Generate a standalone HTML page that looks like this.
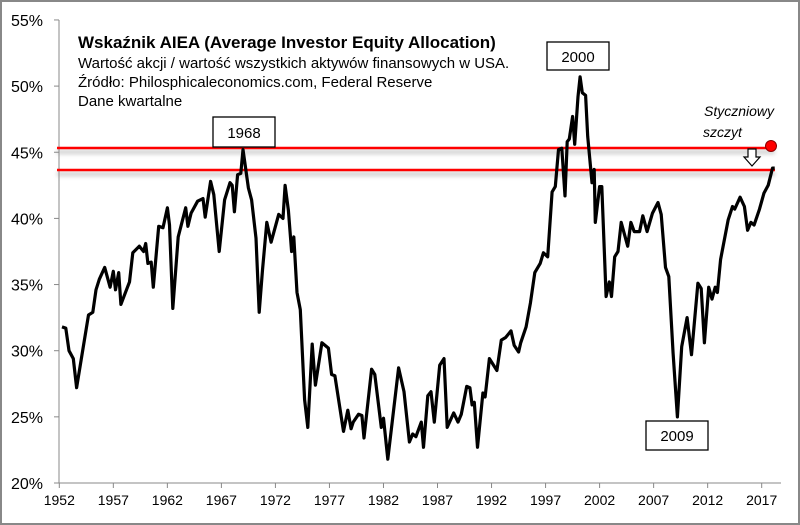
<!DOCTYPE html>
<html><head><meta charset="utf-8"><style>
html,body{margin:0;padding:0;background:#fff}
svg{display:block;font-family:"Liberation Sans",sans-serif}
</style></head><body>
<svg id="chart" width="800" height="525" viewBox="0 0 800 525">
<defs><filter id="sh" x="-5%" y="-200%" width="110%" height="500%"><feGaussianBlur stdDeviation="2"/></filter></defs>
<rect x="1" y="1" width="798" height="523" fill="#fff" stroke="#888" stroke-width="2"/>
<g id="axes"></g>
<g>
<rect x="57" y="150" width="718" height="4" fill="#999" opacity="0.5" filter="url(#sh)"/>
<rect x="57" y="172" width="718" height="4" fill="#999" opacity="0.5" filter="url(#sh)"/>
<line x1="57" y1="148" x2="775" y2="148" stroke="#f00" stroke-width="2.5"/>
<line x1="57" y1="170" x2="775" y2="170" stroke="#f00" stroke-width="2.5"/>
</g>
<path id="series" fill="none" stroke="#000" stroke-width="3.2" stroke-linejoin="round"/>
<g fill="#000">
<text x="78" y="48" font-size="17" font-weight="bold">Wskaźnik AIEA (Average Investor Equity Allocation)</text>
<text x="78" y="68" font-size="15">Wartość akcji / wartość wszystkich aktywów  finansowych w USA.</text>
<text x="78" y="87" font-size="15">Źródło: Philosphicaleconomics.com, Federal Reserve</text>
<text x="78" y="106" font-size="15">Dane kwartalne</text>
</g>
<g>
<rect x="213" y="117" width="62" height="30" fill="#fff" stroke="#000" stroke-width="1.3"/>
<text x="244" y="138" font-size="15" text-anchor="middle">1968</text></g>
<g>
<rect x="547" y="42" width="62" height="28" fill="#fff" stroke="#000" stroke-width="1.3"/>
<text x="578" y="62" font-size="15" text-anchor="middle">2000</text></g>
<g>
<rect x="646" y="421" width="62" height="29" fill="#fff" stroke="#000" stroke-width="1.3"/>
<text x="677" y="441" font-size="15" text-anchor="middle">2009</text></g>
<g>
<text x="704" y="116" font-size="14" font-style="italic">Styczniowy</text>
<text x="703" y="137" font-size="14" font-style="italic">szczyt</text>
<path d="M748 149 h8 v8 h4 l-8 9 l-8 -9 h4 z" fill="#fff" stroke="#000" stroke-width="1.2"/>
<circle cx="771" cy="146" r="5.5" fill="#f00" stroke="#800" stroke-width="1"/>
</g>
</svg>
<script>
const years=[1952.25,1952.6,1952.9,1953.3,1953.6,1954.7,1955.1,1955.4,1955.7,1956.2,1956.7,1957.0,1957.2,1957.5,1957.7,1958.5,1958.8,1959.4,1959.8,1960.0,1960.2,1960.5,1960.7,1961.2,1961.6,1962.0,1962.2,1962.5,1963.0,1963.7,1963.9,1964.2,1964.8,1965.3,1965.5,1966.0,1966.3,1966.8,1967.3,1967.8,1968.0,1968.2,1968.5,1968.8,1969.0,1969.5,1969.8,1970.2,1970.5,1970.8,1971.2,1971.6,1972.3,1972.7,1972.9,1973.2,1973.5,1973.7,1974.0,1974.3,1974.7,1975.0,1975.4,1975.7,1976.3,1976.9,1977.2,1977.5,1978.3,1978.7,1979.0,1979.2,1979.7,1980.0,1980.2,1980.9,1981.2,1981.8,1982.0,1982.4,1983.4,1983.9,1984.4,1984.7,1985.0,1985.5,1985.7,1986.1,1986.4,1986.7,1987.2,1987.6,1987.9,1988.5,1988.9,1989.2,1989.7,1990.0,1990.2,1990.4,1990.7,1991.2,1991.4,1991.8,1992.5,1992.9,1993.3,1993.8,1994.1,1994.5,1994.7,1995.2,1995.6,1996.0,1996.5,1996.8,1997.2,1997.6,1997.9,1998.2,1998.5,1998.8,1999.0,1999.2,1999.5,1999.7,2000.0,2000.2,2000.4,2000.7,2000.9,2001.3,2001.5,2001.6,2002.0,2002.2,2002.6,2002.9,2003.1,2003.4,2003.7,2004.0,2004.6,2004.9,2005.2,2005.7,2006.0,2006.4,2006.9,2007.4,2007.7,2008.1,2008.4,2008.8,2009.2,2009.6,2010.1,2010.5,2011.1,2011.4,2011.7,2012.1,2012.4,2012.7,2012.9,2013.2,2013.9,2014.3,2014.5,2015.0,2015.4,2015.7,2016.0,2016.3,2016.8,2017.2,2017.6,2018.0,2018.2];
const values=[31.8,31.7,30.0,29.4,27.2,32.7,32.9,34.6,35.4,36.3,34.8,36.0,34.6,35.9,33.5,35.2,37.4,37.9,37.5,38.1,36.6,36.7,34.8,39.4,39.3,40.8,39.5,33.2,38.6,40.8,39.4,40.4,41.3,41.5,40.1,42.8,41.8,37.5,41.4,42.7,42.5,40.5,43.3,43.4,45.2,42.3,41.4,38.5,32.9,36.1,39.7,38.2,40.3,40.0,42.5,40.6,37.5,38.6,34.4,33.1,26.3,24.2,30.5,27.4,30.6,30.2,28.2,28.1,23.9,25.5,24.1,24.6,25.2,25.1,23.4,28.6,28.2,24.2,24.9,21.8,28.7,26.9,23.1,23.7,23.5,24.6,22.7,26.6,26.9,24.6,28.9,29.4,24.2,25.3,24.6,25.2,27.3,27.2,25.9,26.1,22.7,26.8,26.5,29.4,28.5,30.8,31.0,31.5,30.4,29.9,30.6,31.8,33.6,35.9,36.6,37.4,37.1,42.0,42.4,45.2,45.3,41.7,45.8,46.0,47.7,45.6,49.2,50.7,49.5,49.3,46.2,42.7,43.7,39.7,42.4,42.4,34.1,35.2,34.1,37.1,37.5,39.7,37.9,39.7,39.0,39.0,40.2,39.0,40.4,41.2,40.3,36.3,35.6,29.8,25.0,30.3,32.5,29.7,35.1,34.7,30.6,34.8,33.9,34.8,34.4,36.9,39.9,40.9,40.7,41.6,40.9,39.1,39.7,39.5,40.7,41.9,42.5,43.8,43.8];
const yTicks=[20,25,30,35,40,45,50,55];
const xTickYears=[1952,1957,1962,1967,1972,1977,1982,1987,1992,1997,2002,2007,2012,2017];
const NS='http://www.w3.org/2000/svg';
function xs(y){return 59.3+(y-1952)*10.806;}
function ys(v){return 483-(v-20)*13.23;}
const axes=document.getElementById('axes');
function el(t,a,p){const e=document.createElementNS(NS,t);for(const k in a)e.setAttribute(k,a[k]);(p||axes).appendChild(e);return e;}
const ya=el('line',{x1:59,y1:20,x2:59,y2:483,stroke:'#888','stroke-width':1});


const xa=el('line',{x1:59,y1:483,x2:781,y2:483,stroke:'#888','stroke-width':1});


yTicks.forEach(v=>{
  el('line',{x1:54,y1:ys(v),x2:59,y2:ys(v),stroke:'#888'});
  const t=el('text',{x:43,y:ys(v)+6,'font-size':16,'text-anchor':'end',fill:'#000'});
  t.textContent=v+'%';
  
  
});
xTickYears.forEach(y=>{
  el('line',{x1:xs(y),y1:483,x2:xs(y),y2:488,stroke:'#888'});
  const t=el('text',{x:xs(y),y:505,'font-size':14,'text-anchor':'middle',fill:'#000'});
  t.textContent=y;
  
  
});
let d='';
years.forEach((y,i)=>{d+=(i?'L':'M')+xs(y).toFixed(1)+' '+ys(values[i]).toFixed(1);});
document.getElementById('series').setAttribute('d',d);
</script>
</body></html>
